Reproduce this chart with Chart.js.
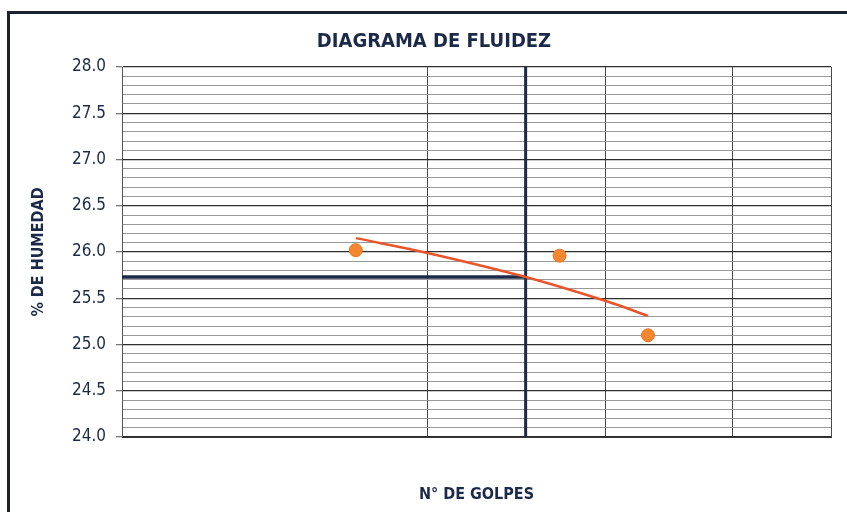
<!DOCTYPE html>
<html>
<head>
<meta charset="utf-8">
<script src="https://cdn.jsdelivr.net/npm/chart.js@4"></script>
<style>
  html, body { margin: 0; padding: 0; background: #fff; }
  #wrap { position: relative; width: 847px; height: 512px; overflow: hidden; }
  #frame { position: absolute; left: 7px; top: 11px; width: 900px; height: 600px;
           border-left: 3px solid #1c2130; border-top: 3px solid #1c2130; pointer-events: none; }
  canvas { position: absolute; left: 0; top: 0; }
</style>
</head>
<body>
<div id="wrap">
  <div id="frame"></div>
  <canvas id="chart" width="847" height="512"></canvas>
</div>
<script>
  // Diagrama de fluidez - limite liquido

  var GOLPES = [17, 27, 33];
  var HUMEDAD = [26.02, 25.96, 25.10];

  // linea de tendencia
  var TREND_GOLPES = [17, 20, 25, 30, 33];
  var TREND_HUMEDAD = [26.15, 25.99, 25.73, 25.47, 25.31];

  var LL_GOLPES = 25;
  var LL_HUMEDAD = 25.73;

  var X_TICKS = [10, 20, 30, 40, 50];
  var Y_MIN = 24, Y_MAX = 28, Y_STEP = 0.1;

  var NAVY = '#1b2a48';
  var FONT = "'Liberation Sans Narrow', 'Arial Narrow', 'DejaVu Sans Condensed', 'Liberation Sans', Arial, sans-serif";

  function isMajor(v) { return Math.abs(v * 2 - Math.round(v * 2)) < 1e-6; }

  function pts(xs, ys) {
    return xs.map(function (x, i) { return { x: x, y: ys[i] }; });
  }

  new Chart(document.getElementById('chart').getContext('2d'), {
    type: 'scatter',
    data: {
      datasets: [
        {
          label: 'Puntos',
          data: pts(GOLPES, HUMEDAD),
          backgroundColor: '#f3862e', borderColor: '#ea7424', borderWidth: 1,
          pointRadius: 6.5, showLine: false, order: 0
        },
        {
          label: 'Tendencia',
          data: pts(TREND_GOLPES, TREND_HUMEDAD),
          borderColor: '#e8552b', borderWidth: 2.5, pointRadius: 0,
          showLine: true, tension: 0.4, order: 1
        },
        {
          label: 'LL vertical',
          data: [{ x: LL_GOLPES, y: Y_MIN }, { x: LL_GOLPES, y: Y_MAX }],
          borderColor: NAVY, borderWidth: 3, pointRadius: 0, showLine: true, order: 2
        },
        {
          label: 'LL horizontal',
          data: [{ x: X_TICKS[0], y: LL_HUMEDAD }, { x: LL_GOLPES, y: LL_HUMEDAD }],
          borderColor: NAVY, borderWidth: 3.5, pointRadius: 0, showLine: true, order: 2
        }
      ]
    },
    options: {
      responsive: false, animation: false,
      layout: { padding: { left: 37, right: 16, top: 0, bottom: 0 } },
      plugins: {
        legend: { display: false },
        tooltip: { enabled: false },
        title: {
          display: true, text: 'DIAGRAMA DE FLUIDEZ', color: NAVY,
          font: { family: FONT, size: 20, weight: 'bold' },
          padding: { top: 30, bottom: 13 }
        }
      },
      scales: {
        x: {
          type: 'logarithmic', min: X_TICKS[0], max: X_TICKS[X_TICKS.length - 1],
          afterBuildTicks: function (s) { s.ticks = X_TICKS.map(function (v) { return { value: v }; }); },
          afterFit: function (s) { s.height = 75; },
          ticks: { display: false },
          grid: { color: '#474747', lineWidth: 1, drawTicks: false },
          border: { color: '#333', width: 1 },
          title: {
            display: true, text: 'N° DE GOLPES', color: NAVY,
            font: { family: FONT, size: 16, weight: 'bold' },
            padding: { top: 40, bottom: 8 }
          }
        },
        y: {
          min: Y_MIN, max: Y_MAX,
          afterFit: function (s) { s.width = 85; },
          ticks: {
            stepSize: Y_STEP, autoSkip: false, color: NAVY, padding: 10,
            font: { family: FONT, size: 17 },
            callback: function (v) { return isMajor(v) ? Number(v).toFixed(1) : ''; }
          },
          grid: {
            color: function (c) { return isMajor(c.tick.value) ? '#2e2e2e' : '#999'; },
            tickColor: function (c) { return isMajor(c.tick.value) ? '#777' : 'rgba(0,0,0,0)'; },
            lineWidth: function (c) { return isMajor(c.tick.value) ? 1.3 : 1; },
            tickLength: 6
          },
          border: { color: '#555', width: 1 },
          title: {
            display: true, text: '% DE HUMEDAD', color: NAVY,
            font: { family: FONT, size: 16, weight: 'bold' },
            padding: { top: -8, bottom: 0 }
          }
        }
      }
    }
  });
</script>
</body>
</html>
